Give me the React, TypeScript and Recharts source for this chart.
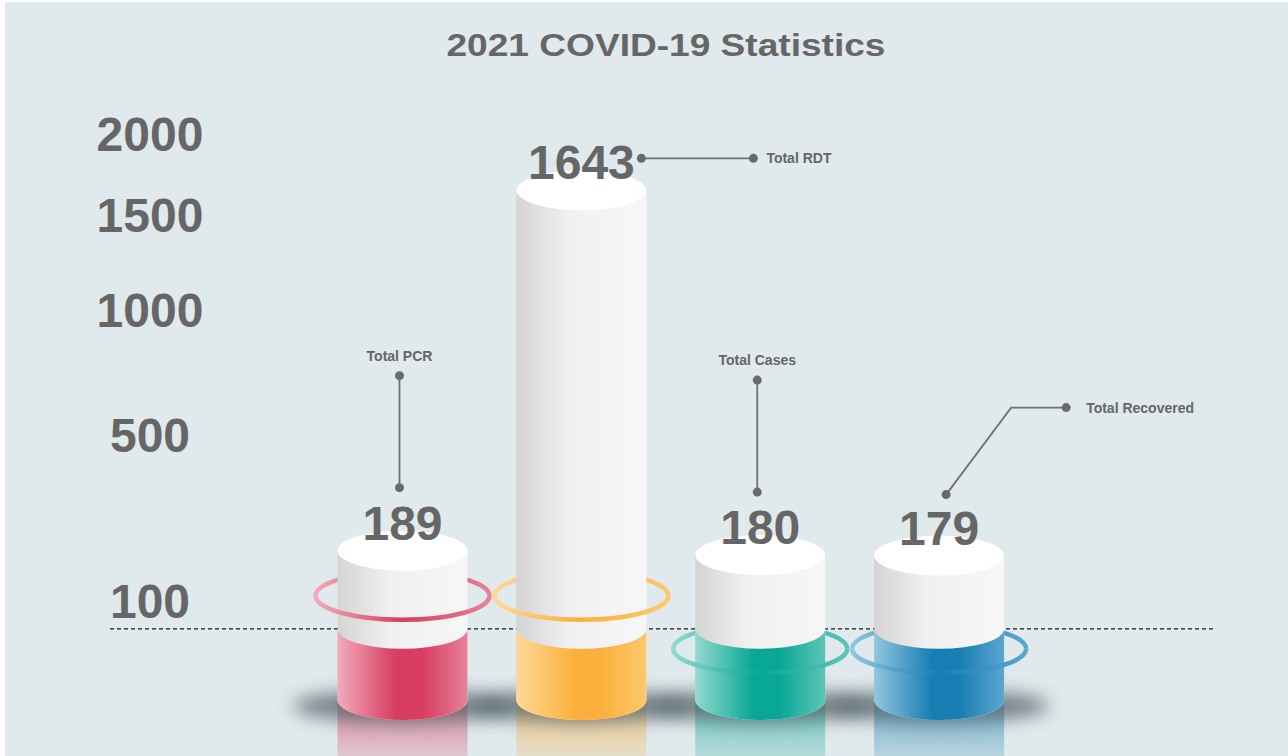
import React from 'react';
import { BarChart, Bar, XAxis, YAxis, ReferenceLine, LabelList } from 'recharts';

const categories = ['Total PCR', 'Total RDT', 'Total Cases', 'Total Recovered'];
const totals = [189, 1643, 180, 179];
const yTicks = [100, 500, 1000, 1500, 2000];
const yDomain = [7, 2000];
// value where the coloured sleeve of every cylinder starts (also the dashed line)
const sleeveLevel = 63;

const palette = [
  { main: '#d73d60', light: '#f2aabb', mid: '#e6819a' },
  { main: '#fbb03b', light: '#fed896', mid: '#fdc86c' },
  { main: '#09a795', light: '#92d9cf', mid: '#5dc5b8' },
  { main: '#177db2', light: '#92c6e0', mid: '#5aa7d0' },
];
const ringShift = [-33, -33, 20, 20];
const calloutKinds = ['up', 'right', 'up', 'diag'];

const data = categories.map((name, i) => ({ name, total: totals[i] }));

const W = 1288;
const H = 756;
const RY = 20;
const FONT = '"Liberation Sans", Arial, sans-serif';
const INK = '#666666';

// y of another value, derived from the sqrt scale the bar was drawn with
const levelY = (top: number, bottom: number, value: number, level: number) => {
  const lo = Math.sqrt(yDomain[0]);
  const t = (Math.sqrt(level) - lo) / (Math.sqrt(value) - lo);
  return bottom - (bottom - top) * t;
};

function Floor(props: any) {
  const { x, y, width, height, index } = props;
  const c = palette[index];
  const bottom = y + height;
  return (
    <g>
      <defs>
        <filter id={`soft${index}`} x="-50%" y="-150%" width="200%" height="400%">
          <feGaussianBlur stdDeviation="9" />
        </filter>
        <linearGradient id={`mirror${index}`} x1="0" y1="0" x2="0" y2="1">
          <stop offset="0%" stopColor={c.main} stopOpacity={0.55} />
          <stop offset="100%" stopColor={c.main} stopOpacity={0.2} />
        </linearGradient>
      </defs>
      <rect x={x} y={bottom} width={width} height={H - bottom} fill={`url(#mirror${index})`} />
      <ellipse
        cx={x + width / 2}
        cy={bottom + 6}
        rx={width / 2 + 45}
        ry={16}
        fill="#56656a"
        opacity={0.8}
        filter={`url(#soft${index})`}
      />
    </g>
  );
}

function Cylinder(props: any) {
  const { x, y, width, height, index, payload } = props;
  const c = palette[index];
  const rx = width / 2;
  const cx = x + rx;
  const bottom = y + height;
  const sleeve = levelY(y, bottom, payload.total, sleeveLevel);
  const ringY = sleeve + ringShift[index];
  const ringRx = rx + 22;
  const ringRy = 24;
  const id = `cyl${index}`;
  return (
    <g>
      <defs>
        <linearGradient id={`${id}-body`} x1="0" y1="0" x2="1" y2="0">
          <stop offset="0%" stopColor="#d4d4d4" />
          <stop offset="40%" stopColor="#f0f0f0" />
          <stop offset="100%" stopColor="#f7f7f7" />
        </linearGradient>
        <linearGradient id={`${id}-band`} x1="0" y1="0" x2="1" y2="0">
          <stop offset="0%" stopColor={c.light} />
          <stop offset="45%" stopColor={c.main} />
          <stop offset="65%" stopColor={c.main} />
          <stop offset="100%" stopColor={c.mid} />
        </linearGradient>
        <linearGradient id={`${id}-ring`} x1="0" y1="0" x2="1" y2="0">
          <stop offset="0%" stopColor={c.light} />
          <stop offset="50%" stopColor={c.main} />
          <stop offset="100%" stopColor={c.mid} />
        </linearGradient>
      </defs>
      <path
        d={`M ${cx - ringRx} ${ringY} A ${ringRx} ${ringRy} 0 0 1 ${cx + ringRx} ${ringY}`}
        fill="none"
        stroke={`url(#${id}-ring)`}
        strokeWidth={4.5}
      />
      <path
        d={`M ${x} ${y} L ${x} ${bottom} A ${rx} ${RY} 0 0 0 ${x + width} ${bottom} L ${x + width} ${y} Z`}
        fill={`url(#${id}-body)`}
      />
      <path
        d={`M ${x} ${sleeve} A ${rx} ${RY} 0 0 0 ${x + width} ${sleeve} L ${x + width} ${bottom} A ${rx} ${RY} 0 0 1 ${x} ${bottom} Z`}
        fill={`url(#${id}-band)`}
      />
      <ellipse cx={cx} cy={y} rx={rx} ry={RY} fill="#ffffff" />
      <path
        d={`M ${cx - ringRx} ${ringY} A ${ringRx} ${ringRy} 0 0 0 ${cx + ringRx} ${ringY}`}
        fill="none"
        stroke={`url(#${id}-ring)`}
        strokeWidth={4.5}
      />
    </g>
  );
}

function ValueText(props: any) {
  const vb = props.viewBox ?? props;
  const cx = vb.x + vb.width / 2;
  return (
    <text x={cx} y={vb.y - RY + 9} textAnchor="middle" fontFamily={FONT} fontWeight="bold" fontSize={48} fill={INK}>
      {props.value}
    </text>
  );
}

function Callout(props: any) {
  const vb = props.viewBox ?? props;
  const i = props.index;
  const cx = vb.x + vb.width / 2;
  const base = vb.y - RY + 9;
  const line = { stroke: '#707070', strokeWidth: 1.8, fill: 'none' };
  const dot = { r: 4.5, fill: '#6a6a6a' };
  const label = { fontFamily: FONT, fontWeight: 'bold' as const, fontSize: 14, fill: INK };
  const kind = calloutKinds[i];
  if (kind === 'up') {
    const ax = cx - 3;
    const ay = base - 52;
    const by = base - 164;
    return (
      <g>
        <line x1={ax} y1={ay} x2={ax} y2={by} {...line} />
        <circle cx={ax} cy={ay} {...dot} />
        <circle cx={ax} cy={by} {...dot} />
        <text x={ax} y={by - 15} textAnchor="middle" {...label}>{props.value}</text>
      </g>
    );
  }
  if (kind === 'right') {
    const ay = base - 21;
    const ax = cx + 60;
    const bx = cx + 172;
    return (
      <g>
        <line x1={ax} y1={ay} x2={bx} y2={ay} {...line} />
        <circle cx={ax} cy={ay} {...dot} />
        <circle cx={bx} cy={ay} {...dot} />
        <text x={bx + 13} y={ay} dy="0.35em" {...label}>{props.value}</text>
      </g>
    );
  }
  const ax = cx + 7;
  const ay = base - 50;
  const ex = cx + 72;
  const ey = base - 137;
  const bx = cx + 127;
  return (
    <g>
      <polyline points={`${ax},${ay} ${ex},${ey} ${bx},${ey}`} {...line} />
      <circle cx={ax} cy={ay} {...dot} />
      <circle cx={bx} cy={ey} {...dot} />
      <text x={bx + 20} y={ey} dy="0.35em" {...label}>{props.value}</text>
    </g>
  );
}

function AxisTick(props: any) {
  return (
    <text x={150} y={props.y} dy="0.36em" textAnchor="middle" fontFamily={FONT} fontWeight="bold" fontSize={48} fill={INK}>
      {props.payload.value}
    </text>
  );
}

function DashedFloor(props: any) {
  return <line x1={110} y1={props.y1} x2={1215} y2={props.y2} stroke="#1a1a1a" strokeWidth={1.2} strokeDasharray="4 3" />;
}

export default function App() {
  return (
    <div style={{ position: 'relative', width: W, height: H, background: '#ffffff' }}>
      <style>{'body{margin:0}'}</style>
      <div style={{ position: 'absolute', left: 5, top: 2, width: W - 5, height: H - 2, background: '#e0e9ec' }} />
      <svg style={{ position: 'absolute', left: 0, top: 0 }} width={W} height={80}>
        <text
          x={666}
          y={56}
          textAnchor="middle"
          textLength={439}
          lengthAdjust="spacingAndGlyphs"
          fontFamily={FONT}
          fontWeight="bold"
          fontSize={31}
          fill={INK}
        >
          2021 COVID-19 Statistics
        </text>
      </svg>
      <div style={{ position: 'absolute', left: 0, top: 0 }}>
        <BarChart width={W} height={H} data={data} margin={{ top: 134, right: 259, bottom: 56, left: 0 }}>
          <XAxis dataKey="name" type="category" hide />
          <YAxis
            type="number"
            scale="sqrt"
            domain={yDomain}
            ticks={yTicks}
            interval={0}
            width={313.5}
            axisLine={false}
            tickLine={false}
            tick={<AxisTick />}
          />
          <ReferenceLine y={sleeveLevel} shape={<DashedFloor />} zIndex={-10} />
          <Bar dataKey="total" barSize={130} shape={<Cylinder />} background={<Floor />} isAnimationActive={false}>
            <LabelList dataKey="total" content={<ValueText />} />
            <LabelList dataKey="name" content={<Callout />} />
          </Bar>
        </BarChart>
      </div>
    </div>
  );
}
